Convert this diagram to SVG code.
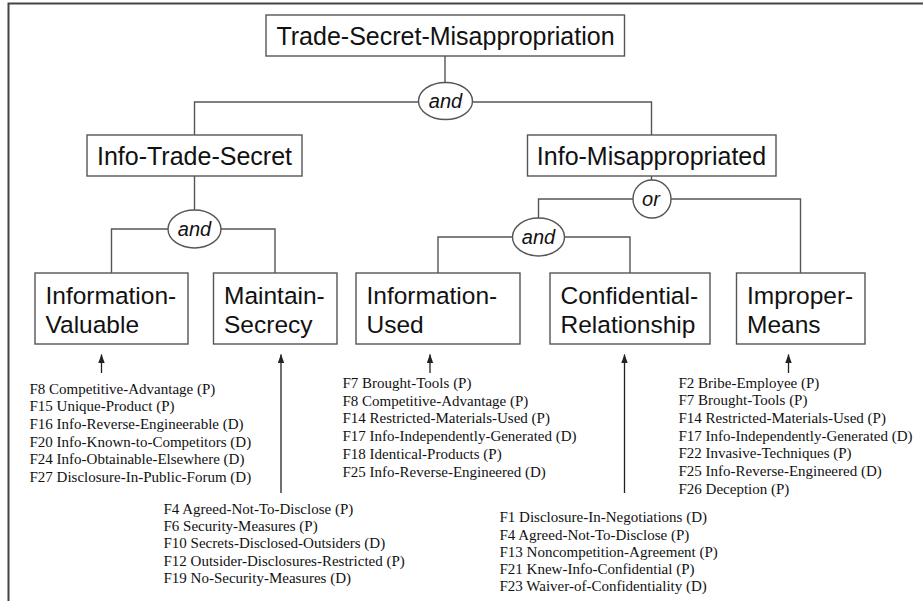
<svg xmlns="http://www.w3.org/2000/svg" width="923" height="601" viewBox="0 0 923 601">
  <style>
    .frame { stroke: #444; stroke-width: 2; fill: none; }
    .box { fill: #fff; stroke: #555; stroke-width: 1.4; }
    .gate { fill: #fff; stroke: #555; stroke-width: 1.4; }
    .wire { fill: none; stroke: #555; stroke-width: 1.4; }
    .stem { fill: none; stroke: #222; stroke-width: 1.3; }
    .head { font-family: "Liberation Sans", Arial, sans-serif; font-size: 25px; fill: #111; }
    .leaf { font-family: "Liberation Sans", Arial, sans-serif; font-size: 24.5px; fill: #111; }
    .op { font-family: "Liberation Sans", Arial, sans-serif; font-size: 20px; font-style: italic; fill: #111; text-anchor: middle; }
    .factor { font-family: "Liberation Serif", "Times New Roman", serif; font-size: 15px; fill: #111; }
  </style>
  <defs>
    <!-- small solid arrowhead, drawn along +x so orient="auto" follows the stem -->
    <marker id="tip" markerWidth="9" markerHeight="7" refX="8.5" refY="3.5" orient="auto" markerUnits="userSpaceOnUse" viewBox="0 0 9 7">
      <path d="M0,0.3 L9,3.5 L0,6.7 Z" fill="#222"/>
    </marker>
  </defs>

  <!-- page frame (top and left edges) -->
  <path class="frame" d="M8.5,601 V3.5 H923"/>

  <!-- connectors -->
  <g id="connectors">
    <path class="wire" d="M445,56 V83"/>
    <path class="wire" d="M194.5,135 V102 H418 M473,102 H651.5 V135"/>
    <path class="wire" d="M194.5,176 V210"/>
    <path class="wire" d="M111.5,273 V229 H168 M221,229 H275 V273"/>
    <path class="wire" d="M651.5,176 V180"/>
    <path class="wire" d="M538.5,218 V199 H633 M671,199 H800.5 V273"/>
    <path class="wire" d="M438,273 V237 H512.5 M564.5,237 H630 V273"/>
    <!-- factor arrows -->
    <path class="stem" d="M101.5,373 V354.5" marker-end="url(#tip)"/>
    <path class="stem" d="M281,493 V354.5" marker-end="url(#tip)"/>
    <path class="stem" d="M430,373 V354.5" marker-end="url(#tip)"/>
    <path class="stem" d="M624.5,493 V354.5" marker-end="url(#tip)"/>
    <path class="stem" d="M788.5,373 V354.5" marker-end="url(#tip)"/>
  </g>

  <!-- logical operators -->
  <g id="op-and-top">
    <ellipse class="gate" cx="445.5" cy="101" rx="27" ry="18.5"/>
    <text class="op" x="445.5" y="108">and</text>
  </g>
  <g id="op-and-left">
    <ellipse class="gate" cx="194.5" cy="229" rx="26.5" ry="19"/>
    <text class="op" x="194.5" y="236">and</text>
  </g>
  <g id="op-or">
    <circle class="gate" cx="652" cy="199" r="19"/>
    <text class="op" x="651" y="206">or</text>
  </g>
  <g id="op-and-right">
    <ellipse class="gate" cx="538.5" cy="237" rx="26" ry="19"/>
    <text class="op" x="538.5" y="244">and</text>
  </g>

  <!-- issue nodes -->
  <g id="trade-secret-misappropriation">
    <rect class="box" x="266" y="15" width="358.5" height="41"/>
    <text class="head" x="445.5" y="45" text-anchor="middle">Trade-Secret-Misappropriation</text>
  </g>
  <g id="info-trade-secret">
    <rect class="box" x="87" y="135" width="215" height="41"/>
    <text class="head" x="194.5" y="165" text-anchor="middle">Info-Trade-Secret</text>
  </g>
  <g id="info-misappropriated">
    <rect class="box" x="527.5" y="135" width="248.5" height="41"/>
    <text class="head" x="651.5" y="165" text-anchor="middle">Info-Misappropriated</text>
  </g>

  <g id="information-valuable">
    <rect class="box" x="35" y="273" width="153" height="71"/>
    <text class="leaf" x="45.5" y="303.5">Information-</text>
    <text class="leaf" x="45.5" y="333">Valuable</text>
  </g>
  <g id="maintain-secrecy">
    <rect class="box" x="213.5" y="273" width="123.5" height="71"/>
    <text class="leaf" x="224" y="303.5">Maintain-</text>
    <text class="leaf" x="224" y="333">Secrecy</text>
  </g>
  <g id="information-used">
    <rect class="box" x="356" y="273" width="164" height="71"/>
    <text class="leaf" x="366.5" y="303.5">Information-</text>
    <text class="leaf" x="366.5" y="333">Used</text>
  </g>
  <g id="confidential-relationship">
    <rect class="box" x="550" y="273" width="160" height="71"/>
    <text class="leaf" x="560.5" y="303.5">Confidential-</text>
    <text class="leaf" x="560.5" y="333">Relationship</text>
  </g>
  <g id="improper-means">
    <rect class="box" x="736.5" y="273" width="128.5" height="71"/>
    <text class="leaf" x="747" y="303.5">Improper-</text>
    <text class="leaf" x="747" y="333">Means</text>
  </g>

  <!-- factor lists -->
  <g id="factors-information-valuable" class="factor">
    <text x="29.5" y="393.5">F8 Competitive-Advantage (P)</text>
    <text x="29.5" y="411.2">F15 Unique-Product (P)</text>
    <text x="29.5" y="428.9">F16 Info-Reverse-Engineerable (D)</text>
    <text x="29.5" y="446.6">F20 Info-Known-to-Competitors (D)</text>
    <text x="29.5" y="464.3">F24 Info-Obtainable-Elsewhere (D)</text>
    <text x="29.5" y="482">F27 Disclosure-In-Public-Forum (D)</text>
  </g>
  <g id="factors-maintain-secrecy" class="factor">
    <text x="163.5" y="514">F4 Agreed-Not-To-Disclose (P)</text>
    <text x="163.5" y="531.2">F6 Security-Measures (P)</text>
    <text x="163.5" y="548.4">F10 Secrets-Disclosed-Outsiders (D)</text>
    <text x="163.5" y="565.6">F12 Outsider-Disclosures-Restricted (P)</text>
    <text x="163.5" y="582.8">F19 No-Security-Measures (D)</text>
  </g>
  <g id="factors-information-used" class="factor">
    <text x="342.5" y="388">F7 Brought-Tools (P)</text>
    <text x="342.5" y="405.7">F8 Competitive-Advantage (P)</text>
    <text x="342.5" y="423.4">F14 Restricted-Materials-Used (P)</text>
    <text x="342.5" y="441.1">F17 Info-Independently-Generated (D)</text>
    <text x="342.5" y="458.8">F18 Identical-Products (P)</text>
    <text x="342.5" y="476.5">F25 Info-Reverse-Engineered (D)</text>
  </g>
  <g id="factors-confidential-relationship" class="factor">
    <text x="499.5" y="522.3">F1 Disclosure-In-Negotiations (D)</text>
    <text x="499.5" y="539.5">F4 Agreed-Not-To-Disclose (P)</text>
    <text x="499.5" y="556.7">F13 Noncompetition-Agreement (P)</text>
    <text x="499.5" y="573.9">F21 Knew-Info-Confidential (P)</text>
    <text x="499.5" y="591.1">F23 Waiver-of-Confidentiality (D)</text>
  </g>
  <g id="factors-improper-means" class="factor">
    <text x="678.5" y="387.5">F2 Bribe-Employee (P)</text>
    <text x="678.5" y="405.2">F7 Brought-Tools (P)</text>
    <text x="678.5" y="422.9">F14 Restricted-Materials-Used (P)</text>
    <text x="678.5" y="440.6">F17 Info-Independently-Generated (D)</text>
    <text x="678.5" y="458.3">F22 Invasive-Techniques (P)</text>
    <text x="678.5" y="476">F25 Info-Reverse-Engineered (D)</text>
    <text x="678.5" y="493.7">F26 Deception (P)</text>
  </g>
</svg>
